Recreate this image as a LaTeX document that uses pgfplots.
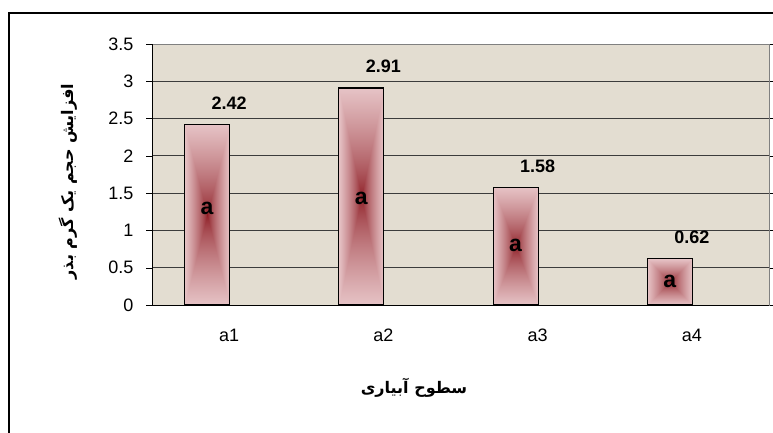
\documentclass[border=0pt]{standalone}
\usepackage{fontspec}
\setmainfont{Liberation Sans}
\newfontfamily\farsi[Script=Arabic]{DejaVu Sans}
\TeXXeTstate=1
\usepackage{pgfplots}
\pgfplotsset{compat=1.18}

\definecolor{plotbg}{RGB}{227,221,209}
\definecolor{gridc}{RGB}{60,60,60}

% rectangular "from centre" gradient: dark red in the middle, pink at the edges
% (tikz maps the path's box onto the inner -25bp..25bp of the shading)
\pgfdeclarefunctionalshading{fromcenter}{\pgfpoint{-50bp}{-50bp}}{\pgfpoint{50bp}{50bp}}{}{
  abs exch abs 2 copy lt {exch} if pop
  25 div dup 1 gt {pop 1} if 0.7 exp
  dup 0.902 0.55 sub mul 0.55 add exch
  dup 0.765 0.10 sub mul 0.10 add exch
  0.776 0.13 sub mul 0.13 add
}

\pgfplotsset{
  mybar/.style={ybar, bar width=45pt, bar shift=-22pt, draw=black, line width=1.2pt,
    shading=fromcenter, nodes near coords,
    every node near coord/.append style={font=\bfseries\fontsize{18}{20}\selectfont, yshift=11pt}},
}

\begin{document}
\begin{tikzpicture}[x=1pt,y=1pt]
\useasboundingbox (0,0) rectangle (773,432);
\draw[line width=2pt] (9,-5) -- (9,419) -- (780,419);
\begin{axis}[
  at={(152pt,127pt)}, anchor=south west,
  scale only axis, width=617pt, height=261pt,
  xmin=-0.5, xmax=3.5, ymin=0, ymax=3.5,
  xtick={0,1,2,3}, xticklabels={a1,a2,a3,a4},
  x tick style={draw=none},
  extra x ticks={-0.5,0.5,1.5,2.5,3.5}, extra x tick labels={},
  extra x tick style={major tick length=6pt, tick align=outside, tick style={draw=black}},
  ytick={0,0.5,1,1.5,2,2.5,3,3.5},
  y tick style={black},
  major tick length=6pt, tick align=outside,
  ymajorgrids, grid style={gridc, line width=0.8pt},
  axis line style={draw=gray, line width=1pt},
  axis background/.style={fill=plotbg},
  /pgf/number format/assume math mode=true,
  tick label style={font=\fontsize{18}{20}\selectfont, black},
  x tick label style={yshift=-14pt, text height=13pt},
  y tick label style={xshift=-9pt},
]
\addplot[mybar] coordinates {(0,2.42)};
\addplot[mybar] coordinates {(1,2.91)};
\addplot[mybar] coordinates {(2,1.58)};
\addplot[mybar] coordinates {(3,0.62)};
\draw[black, line width=1pt] (rel axis cs:0,1) -- (rel axis cs:0,0) -- (rel axis cs:1,0);
\node[font=\bfseries\fontsize{23}{24}\selectfont, xshift=-22pt] at (axis cs:0,1.30) {a};
\node[font=\bfseries\fontsize{23}{24}\selectfont, xshift=-22pt] at (axis cs:1,1.435) {a};
\node[font=\bfseries\fontsize{23}{24}\selectfont, xshift=-22pt] at (axis cs:2,0.80) {a};
\node[font=\bfseries\fontsize{23}{24}\selectfont, xshift=-22pt] at (axis cs:3,0.31) {a};
\end{axis}
\node[rotate=90, font=\farsi\bfseries\fontsize{16}{18}\selectfont] at (68,250.5) {\beginR افزایش حجم یک گرم بذر\endR};
\node[font=\farsi\bfseries\fontsize{16}{18}\selectfont] at (414,44) {\beginR سطوح آبیاری\endR};
\end{tikzpicture}
\end{document}
